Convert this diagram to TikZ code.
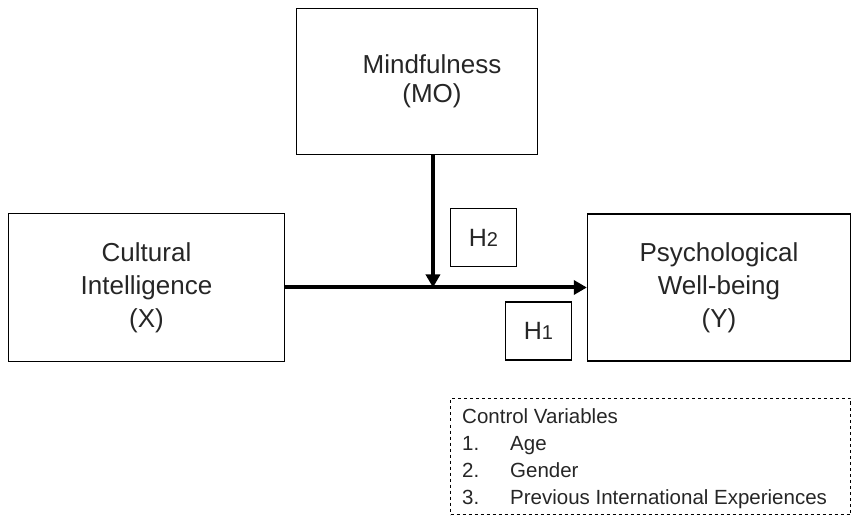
\documentclass[tikz,border=0pt]{standalone}
\usepackage{fontspec}
\setmainfont{Liberation Sans}
\usetikzlibrary{arrows.meta,calc}
\begin{document}
\begin{tikzpicture}[x=1pt,y=-1pt,
	var/.style={draw,line width=1.3pt,inner sep=0pt,align=center,text=black!85,font=\fontsize{26}{33}\selectfont},
	hyp/.style={draw,line width=1.3pt,inner sep=0pt,minimum width=66pt,minimum height=58pt,text=black!85,font=\fontsize{25}{30}\selectfont},
	path/.style={line width=4pt,-{Triangle[length=13pt,width=14pt]}}]
			\useasboundingbox (0,0) rectangle (854,518);
			% variables
			\node[var,minimum width=241pt,minimum height=146pt,font=\fontsize{26}{29}\selectfont] (mind) at (417,81.5) {\hspace*{30pt}Mindfulness\\\hspace*{30pt}(MO)};
			\node[var,minimum width=276pt,minimum height=148pt] (cult) at (146.5,287.5) {Cultural\\Intelligence\\(X)};
			\node[var,minimum width=263pt,minimum height=147pt] (psych) at (719,287.5) {Psychological\\Well-being\\(Y)};
			% hypotheses
			\node[hyp] (h2) at (483.5,237.5) {H{\fontsize{20}{24}\selectfont 2}};
			\node[hyp] (h1) at (538.5,331) {H{\fontsize{20}{24}\selectfont 1}};
			% paths
			\coordinate (join) at ($(cult.east)!0.49!(psych.west)$);
			\draw[path] (cult.east) -- (psych.west);
			\draw[path] (mind.south -| join) -- (join);
			% controls
			\node[draw,dashed,line width=1pt,inner sep=0pt,minimum width=400pt,minimum height=116pt,text=black!85] (ctrl) at (650.5,456.5) {};
			\node[anchor=north west,inner sep=0pt,align=left,text=black!85,font=\fontsize{20.5}{27}\selectfont] (ctrltext) at ([xshift=12pt,yshift=-10pt]ctrl.north west) {Control Variables\\\makebox[48pt][l]{1.}Age\\\makebox[48pt][l]{2.}Gender\\\makebox[48pt][l]{3.}Previous International Experiences};
\end{tikzpicture}
\end{document}
